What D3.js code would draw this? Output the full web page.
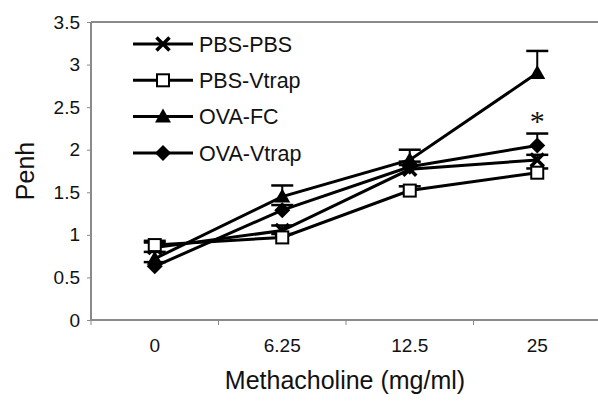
<!DOCTYPE html>
<html>
<head>
<meta charset="utf-8">
<script src="https://cdn.jsdelivr.net/npm/d3@7"></script>
<style>
  body { margin: 0; background: #fff; }
  svg { font-family: "Liberation Sans", Arial, sans-serif; }
</style>
</head>
<body>
<div id="graph"></div>
<script>

// categories (methacholine doses)
var doses = ["0", "6.25", "12.5", "25"];
var yTicks = [0, 0.5, 1, 1.5, 2, 2.5, 3, 3.5];

// series values (Penh) and upper error
var pbsPbs     = [0.85, 1.05, 1.77, 1.88];
var pbsPbsErr  = [0.06, 0.06, 0.05, 0.06];
var pbsVtrap   = [0.88, 0.97, 1.52, 1.73];
var pbsVtrapErr= [0.05, 0.04, 0.05, 0.05];
var ovaFc      = [0.72, 1.45, 1.88, 2.90];
var ovaFcErr   = [0.08, 0.13, 0.12, 0.26];
var ovaVtrap   = [0.63, 1.29, 1.80, 2.05];
var ovaVtrapErr= [0.05, 0.06, 0.06, 0.14];

var seriesNames = ["PBS-PBS", "PBS-Vtrap", "OVA-FC", "OVA-Vtrap"];

var series = [
    {name: seriesNames[0], values: pbsPbs, err: pbsPbsErr, marker: "cross"},
    {name: seriesNames[1], values: pbsVtrap, err: pbsVtrapErr, marker: "square"},
    {name: seriesNames[2], values: ovaFc, err: ovaFcErr, marker: "triangle"},
    {name: seriesNames[3], values: ovaVtrap, err: ovaVtrapErr, marker: "diamond"}
];

var W = 598, H = 403;
var margin = {top: 22, right: -3, bottom: 83, left: 91};
var width = W - margin.left - margin.right,
    height = H - margin.top - margin.bottom;

var svg = d3.select("#graph").append("svg")
    .attr("width", W)
    .attr("height", H)
    .append("g")
    .attr("transform", "translate(" + margin.left + "," + margin.top + ")");

var xScale = d3.scaleBand()
    .domain(doses)
    .range([0, width]);

var yScale = d3.scaleLinear()
    .domain([0, 3.5])
    .range([height, 0]);

// top border line
svg.append("line")
    .attr("x1", 0).attr("x2", width)
    .attr("y1", yScale(3.5)).attr("y2", yScale(3.5))
    .attr("stroke", "#8a8a8a").attr("stroke-width", 2);

// y axis
var yAxis = svg.append("g")
    .call(d3.axisLeft(yScale).tickValues(yTicks).tickSize(4).tickPadding(7)
        .tickFormat(function(d) { return String(d); }));
yAxis.select(".domain").attr("stroke", "#8a8a8a").attr("stroke-width", 2)
    .attr("d", "M0," + height + "V0");
yAxis.selectAll(".tick line").attr("stroke", "#8a8a8a");
yAxis.selectAll("text").attr("font-size", 19).attr("fill", "#111");

// x axis, ticks between categories
var xAxis = svg.append("g")
    .attr("transform", "translate(0," + height + ")")
    .call(d3.axisBottom(xScale).tickSize(0).tickPadding(19));
xAxis.select(".domain").attr("stroke", "#8a8a8a").attr("stroke-width", 2)
    .attr("d", "M0,0H" + width);
xAxis.selectAll("text").attr("font-size", 19).attr("fill", "#111");
xAxis.selectAll(".sep")
    .data(doses)
    .enter().append("line")
    .attr("class", "sep")
    .attr("x1", function(d) { return xScale(d); })
    .attr("x2", function(d) { return xScale(d); })
    .attr("y1", 0).attr("y2", 5)
    .attr("stroke", "#8a8a8a");

// axis titles
svg.append("text")
    .attr("x", 345 - margin.left)
    .attr("y", height + 69)
    .attr("text-anchor", "middle")
    .attr("font-size", 25)
    .attr("fill", "#111")
    .text("Methacholine (mg/ml)");

svg.append("text")
    .attr("transform", "translate(-57," + (171 - margin.top) + ") rotate(-90)")
    .attr("text-anchor", "middle")
    .attr("font-size", 25)
    .attr("fill", "#111")
    .text("Penh");

function cx(i) { return xScale(doses[i]) + xScale.bandwidth() / 2; }

function drawMarker(g, type, x, y) {
    if (type === "cross") {
        var s = 6.5;
        g.append("path")
            .attr("d", "M" + (x - s) + "," + (y - s) + "L" + (x + s) + "," + (y + s) +
                       "M" + (x - s) + "," + (y + s) + "L" + (x + s) + "," + (y - s))
            .attr("stroke", "#000").attr("stroke-width", 3.5).attr("fill", "none");
    } else if (type === "square") {
        g.append("rect")
            .attr("x", x - 6).attr("y", y - 6).attr("width", 12).attr("height", 12)
            .attr("fill", "#fff").attr("stroke", "#000").attr("stroke-width", 2);
    } else if (type === "triangle") {
        g.append("path")
            .attr("d", "M" + x + "," + (y - 8) + "L" + (x + 8) + "," + (y + 6) + "L" + (x - 8) + "," + (y + 6) + "Z")
            .attr("fill", "#000");
    } else if (type === "diamond") {
        g.append("path")
            .attr("d", "M" + x + "," + (y - 8) + "L" + (x + 8) + "," + y + "L" + x + "," + (y + 8) + "L" + (x - 8) + "," + y + "Z")
            .attr("fill", "#000");
    }
}

var line = d3.line()
    .x(function(d, i) { return cx(i); })
    .y(function(d) { return yScale(d); });

// error bars (upper)
series.forEach(function(s) {
    var g = svg.append("g");
    s.values.forEach(function(v, i) {
        var x = cx(i), yTop = yScale(v + s.err[i]);
        g.append("line")
            .attr("x1", x).attr("x2", x)
            .attr("y1", yScale(v)).attr("y2", yTop)
            .attr("stroke", "#000").attr("stroke-width", 2);
        g.append("line")
            .attr("x1", x - 11).attr("x2", x + 11)
            .attr("y1", yTop).attr("y2", yTop)
            .attr("stroke", "#000").attr("stroke-width", 2.5);
    });
});

// lines
series.forEach(function(s) {
    svg.append("path")
        .datum(s.values)
        .attr("d", line)
        .attr("fill", "none")
        .attr("stroke", "#000")
        .attr("stroke-width", 3);
});

// markers
series.forEach(function(s) {
    var g = svg.append("g");
    s.values.forEach(function(v, i) {
        drawMarker(g, s.marker, cx(i), yScale(v));
    });
});

// significance star
svg.append("text")
    .attr("x", cx(3))
    .attr("y", yScale(ovaVtrap[3] + ovaVtrapErr[3]) - 3)
    .attr("text-anchor", "middle")
    .attr("font-family", "'Liberation Serif', 'Times New Roman', serif")
    .attr("font-size", 30)
    .attr("fill", "#111")
    .text("*");

// legend
var legend = svg.append("g")
    .attr("transform", "translate(" + (133 - margin.left) + "," + (44 - margin.top) + ")");
series.forEach(function(s, i) {
    var g = legend.append("g").attr("transform", "translate(0," + (i * 36.3) + ")");
    g.append("line")
        .attr("x1", 0).attr("x2", 60)
        .attr("y1", 0).attr("y2", 0)
        .attr("stroke", "#000").attr("stroke-width", 3);
    drawMarker(g, s.marker, 30, 0);
    g.append("text")
        .attr("x", 66).attr("y", 0)
        .attr("dy", "0.36em")
        .attr("font-size", 21.5)
        .attr("fill", "#111")
        .text(s.name);
});

</script>
</body>
</html>
